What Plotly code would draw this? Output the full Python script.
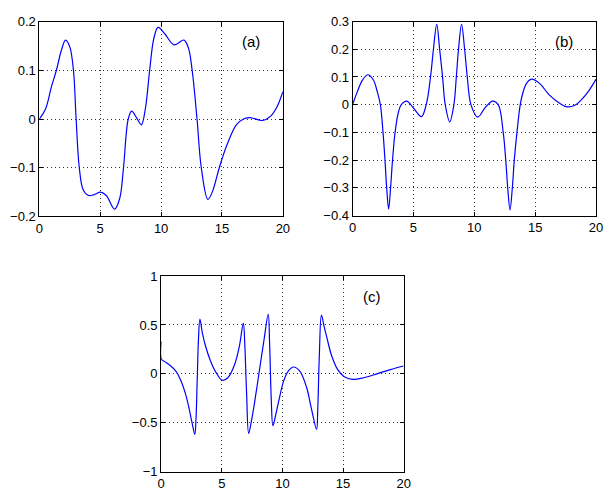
import plotly.graph_objects as go

# ---- data ----
t_a = [0, 0.5, 1.0, 1.4, 1.8, 2.15, 2.5, 2.8, 3.02, 3.28, 3.6, 4.05, 4.5, 5.03, 5.5, 6.18,
       6.6, 6.91, 7.3, 7.58, 8.0, 8.38, 8.7, 9.06, 9.4, 9.75, 10.3, 11.07, 11.88, 12.25,
       12.55, 12.95, 13.3, 13.84, 14.2, 14.78, 15.38, 16.18, 16.85, 17.3, 18.33, 19.0,
       19.5, 20.0]
v_a = [0, 0.02, 0.067, 0.1, 0.14, 0.162, 0.148, 0.1, 0.0, -0.1, -0.145, -0.157, -0.155,
       -0.15, -0.157, -0.185, -0.163, -0.1, 0.0, 0.016, 0.002, -0.012, 0.02, 0.1, 0.165,
       0.188, 0.175, 0.152, 0.162, 0.145, 0.1, 0.0, -0.1, -0.165, -0.15, -0.1, -0.055,
       -0.012, 0.001, 0.003, -0.003, 0.006, 0.024, 0.056]

t_b = [0, 0.4, 0.8, 1.26, 1.7, 2.02, 2.28, 2.5, 2.66, 2.8, 2.96, 3.12, 3.28, 3.49, 3.75,
       4.0, 4.44, 5.0, 5.65, 6.05, 6.4, 6.64, 6.91, 7.15, 7.39, 7.61, 7.98, 8.32, 8.52, 8.7,
       8.95, 9.2, 9.42, 9.72, 10.27, 10.9, 11.5, 11.96, 12.37, 12.58, 12.74, 12.93, 13.12,
       13.28, 13.5, 13.77, 14.0, 14.3, 14.73, 15.4, 16.13, 17.0, 17.6, 18.3, 18.8, 19.4, 20.0]
v_b = [0, 0.048, 0.088, 0.108, 0.09, 0.048, 0.0, -0.1, -0.2, -0.3, -0.377, -0.3, -0.2,
       -0.1, -0.03, 0.0, 0.013, -0.012, -0.043, 0.0, 0.1, 0.2, 0.29, 0.2, 0.1, 0.0, -0.062,
       0.0, 0.1, 0.2, 0.29, 0.2, 0.1, 0.0, -0.045, -0.01, 0.013, 0.0, -0.1, -0.2, -0.3,
       -0.38, -0.3, -0.2, -0.1, 0.0, 0.045, 0.078, 0.092, 0.075, 0.036, 0.005, -0.008,
       -0.001, 0.018, 0.05, 0.092]

t_c = [0, 0.03, 0.3, 0.7, 1.2, 1.6, 2.0, 2.3, 2.55, 2.78, 2.88, 2.98, 3.08, 3.2, 3.4,
       3.65, 4.05, 4.5, 5.05, 5.5, 6.05, 6.45, 6.78, 6.9, 7.05, 7.22, 7.45, 7.7, 8.1, 8.5,
       8.83, 8.95, 9.08, 9.22, 9.45, 9.75, 10.1, 10.5, 10.93, 11.45, 12.0, 12.4, 12.82,
       12.92, 13.05, 13.22, 13.45, 13.65, 14.05, 14.55, 15.1, 15.8, 16.7, 17.8, 18.9, 20.0]
v_c = [0.33, 0.15, 0.125, 0.09, 0.03, -0.06, -0.2, -0.35, -0.5, -0.62, -0.45, -0.05, 0.35,
       0.56, 0.42, 0.29, 0.14, 0.02, -0.066, -0.04, 0.09, 0.28, 0.52, 0.3, -0.2, -0.61,
       -0.48, -0.3, 0.03, 0.36, 0.61, 0.3, -0.25, -0.53, -0.42, -0.25, -0.075, 0.03, 0.07,
       0.025, -0.14, -0.36, -0.57, -0.35, 0.2, 0.6, 0.48, 0.38, 0.19, 0.045, -0.03, -0.056,
       -0.04, 0.0, 0.043, 0.08]

x_ticks = [0, 5, 10, 15, 20]
y_ticks_a = [-0.2, -0.1, 0, 0.1, 0.2]
y_ticks_b = [-0.4, -0.3, -0.2, -0.1, 0, 0.1, 0.2, 0.3]
y_ticks_c = [-1, -0.5, 0, 0.5, 1]
panel_labels = ["(a)", "(b)", "(c)"]

W, H = 609, 497
BLUE = "#0000ff"
FONT = "Liberation Sans, Arial, sans-serif"

fig = go.Figure()
for tx, vy, xa, ya in [(t_a, v_a, "x", "y"), (t_b, v_b, "x2", "y2"), (t_c, v_c, "x3", "y3")]:
    fig.add_trace(go.Scatter(x=tx, y=vy, mode="lines",
                             line=dict(color=BLUE, width=1.2, shape="spline", smoothing=1.0),
                             xaxis=xa, yaxis=ya, showlegend=False, hoverinfo="skip"))

def px_x(p):
    return p / W

def px_y(p):
    return 1 - p / H

common = dict(showline=True, linecolor="black", linewidth=1, mirror="ticks",
              ticks="inside", ticklen=4, tickcolor="black", tickwidth=1,
              showgrid=True, gridcolor="#333333", gridwidth=1, griddash="1px,3px",
              zeroline=False, tickfont=dict(size=13, color="black", family=FONT))

domains = {
    "a": dict(x=[px_x(36), px_x(284)], y=[px_y(216), px_y(15)]),
    "b": dict(x=[px_x(355), px_x(603)], y=[px_y(215), px_y(15)]),
    "c": dict(x=[px_x(160), px_x(407)], y=[px_y(479), px_y(277.5)]),
}

fig.update_layout(
    width=W, height=H,
    margin=dict(l=0, r=0, t=0, b=0),
    paper_bgcolor="white", plot_bgcolor="white",
    font=dict(family=FONT, color="black"),
    xaxis=dict(domain=domains["a"]["x"], anchor="y", range=[0, 20], tickvals=x_ticks, **common),
    yaxis=dict(domain=domains["a"]["y"], anchor="x", range=[-0.2, 0.2], tickvals=y_ticks_a, **common),
    xaxis2=dict(domain=domains["b"]["x"], anchor="y2", range=[0, 20], tickvals=x_ticks, **common),
    yaxis2=dict(domain=domains["b"]["y"], anchor="x2", range=[-0.4, 0.3], tickvals=y_ticks_b, **common),
    xaxis3=dict(domain=domains["c"]["x"], anchor="y3", range=[0, 20], tickvals=x_ticks, **common),
    yaxis3=dict(domain=domains["c"]["y"], anchor="x3", range=[-1, 1], tickvals=y_ticks_c, **common),
)

label_pos = [("x", "y", 17.4, 0.16), ("x2", "y2", 17.4, 0.228), ("x3", "y3", 17.4, 0.79)]
for text, (xr, yr, lx, ly) in zip(panel_labels, label_pos):
    fig.add_annotation(x=lx, y=ly, xref=xr, yref=yr, text=text, showarrow=False,
                       font=dict(size=15, color="black", family=FONT))

fig.write_html("out.html")
